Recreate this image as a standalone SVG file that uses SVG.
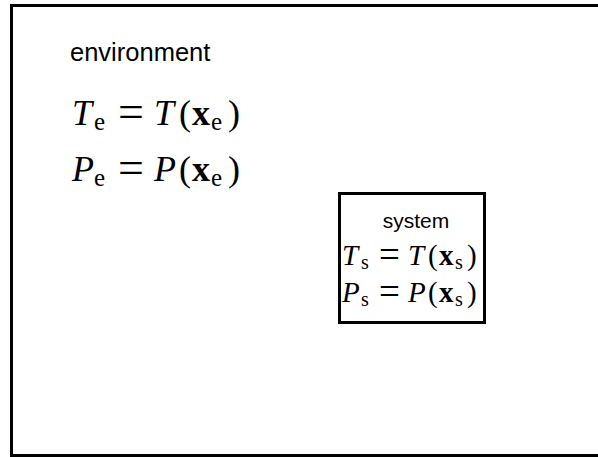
<svg xmlns="http://www.w3.org/2000/svg" width="598" height="457" viewBox="0 0 598 457">
<style>
.box{fill:none;stroke:#000;stroke-width:3}
.lbl{font-family:"Liberation Sans",Arial,sans-serif;fill:#000}
.m{font-family:"Liberation Serif","Times New Roman",serif;fill:#000}
.i{font-style:italic}
.b{font-weight:bold}
</style>
<rect x="0" y="0" width="598" height="457" fill="#fff"/>
<g id="environment">
<rect class="box" x="11.5" y="5.5" width="600" height="450"/>
<text class="lbl" x="70" y="61" font-size="25.5">environment</text>
<text class="m" font-size="36" y="125"><tspan class="i" x="72">T</tspan><tspan font-size="25" x="94" y="130">e</tspan><tspan font-size="46" x="118" y="127">=</tspan><tspan class="i" x="154" y="125">T</tspan><tspan x="179">(</tspan><tspan class="b" x="192">x</tspan><tspan font-size="25" x="211" y="130">e</tspan><tspan x="228" y="125">)</tspan></text>
<text class="m" font-size="36" y="181"><tspan class="i" x="72">P</tspan><tspan font-size="25" x="94" y="186">e</tspan><tspan font-size="46" x="118" y="183">=</tspan><tspan class="i" x="154" y="181">P</tspan><tspan x="179">(</tspan><tspan class="b" x="192">x</tspan><tspan font-size="25" x="211" y="186">e</tspan><tspan x="228" y="181">)</tspan></text>
</g>
<g id="system">
<rect class="box" x="339.5" y="193.5" width="145" height="129"/>
<text class="lbl" x="416" y="228" font-size="21" text-anchor="middle">system</text>
<text class="m" font-size="29" y="265"><tspan class="i" x="342">T</tspan><tspan font-size="20" x="361" y="269">s</tspan><tspan font-size="37" x="379" y="266.5">=</tspan><tspan class="i" x="408" y="265">T</tspan><tspan x="428">(</tspan><tspan class="b" x="439">x</tspan><tspan font-size="20" x="455" y="269">s</tspan><tspan x="467" y="265">)</tspan></text>
<text class="m" font-size="29" y="302"><tspan class="i" x="342">P</tspan><tspan font-size="20" x="361" y="306">s</tspan><tspan font-size="37" x="379" y="303.5">=</tspan><tspan class="i" x="408" y="302">P</tspan><tspan x="428">(</tspan><tspan class="b" x="439">x</tspan><tspan font-size="20" x="455" y="306">s</tspan><tspan x="467" y="302">)</tspan></text>
</g>
<g id="connectors"/>
</svg>
